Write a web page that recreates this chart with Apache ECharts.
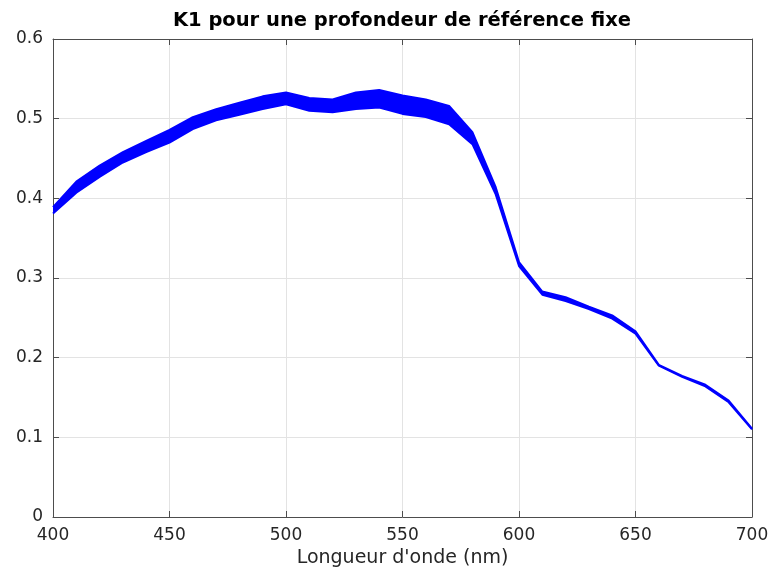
<!DOCTYPE html>
<html>
<head>
<meta charset="utf-8">
<script src="https://cdn.jsdelivr.net/npm/echarts@6/dist/echarts.min.js"></script>
<style>
html,body{margin:0;padding:0;background:#fff;}
#chart{width:773px;height:576px;}
</style>
</head>
<body>
<div id="chart"></div>
<script>
// Wavelengths (nm)
const wavelengths = [400,410,420,430,440,450,460,470,480,490,500,510,520,530,540,550,560,570,580,590,600,610,620,630,640,650,660,670,680,690,700];
// Upper envelope of the family of K1 curves
const upperK1 = [0.389,0.421,0.441,0.458,0.472,0.486,0.502,0.512,0.520,0.528,0.533,0.526,0.524,0.533,0.536,0.529,0.524,0.516,0.483,0.414,0.320,0.283,0.276,0.264,0.253,0.233,0.191,0.177,0.166,0.146,0.111];
// Lower envelope of the family of K1 curves
const lowerK1 = [0.381,0.407,0.427,0.445,0.458,0.470,0.487,0.498,0.505,0.512,0.518,0.510,0.508,0.512,0.514,0.506,0.502,0.493,0.468,0.405,0.315,0.279,0.271,0.261,0.249,0.230,0.190,0.176,0.164,0.144,0.110];
const xTicks = [400,450,500,550,600,650,700];
const yTicks = [0,0.1,0.2,0.3,0.4,0.5,0.6];

const categories = wavelengths.map(String);
const bandWidth = wavelengths.map((w,i)=>+(upperK1[i]-lowerK1[i]).toFixed(4));
const tickEvery = (idx)=> xTicks.indexOf(wavelengths[idx]) >= 0;

const axisCol = '#4d4d4d';
const txtCol = '#262626';
const font = 'DejaVu Sans';

const chart = echarts.init(document.getElementById('chart'), null, {renderer:'canvas'});
chart.setOption({
  animation:false,
  backgroundColor:'#ffffff',
  title:{
    text:'K1 pour une profondeur de référence fixe',
    left:402, top:11, textAlign:'center', padding:0,
    textStyle:{fontFamily:font, fontWeight:'bold', fontSize:19.5, color:'#000'}
  },
  grid:{left:53, right:21, top:39, bottom:59, containLabel:false},
  xAxis:[{
    type:'category', data:categories, boundaryGap:false, position:'bottom',
    name:'Longueur d\'onde (nm)', nameLocation:'middle', nameGap:31,
    nameTextStyle:{fontFamily:font, fontSize:19, color:txtCol},
    axisLine:{show:true, lineStyle:{color:axisCol, width:1}},
    axisTick:{show:true, inside:true, length:6, interval:(i)=>tickEvery(i), lineStyle:{color:axisCol}},
    axisLabel:{fontFamily:font, fontSize:17, color:txtCol, margin:10, interval:(i)=>tickEvery(i)},
    splitLine:{show:true, interval:(i)=>tickEvery(i), lineStyle:{color:'#e3e3e3', width:1}}
  },{
    type:'category', data:categories, boundaryGap:false, position:'top',
    axisLine:{show:true, onZero:false, lineStyle:{color:axisCol, width:1}},
    axisTick:{show:true, inside:true, length:6, interval:(i)=>tickEvery(i), lineStyle:{color:axisCol}},
    axisLabel:{show:false}, splitLine:{show:false}
  }],
  yAxis:[{
    type:'value', min:yTicks[0], max:yTicks[yTicks.length-1], interval:0.1, position:'left',
    axisLine:{show:true, lineStyle:{color:axisCol, width:1}},
    axisTick:{show:true, inside:true, length:6, lineStyle:{color:axisCol}},
    axisLabel:{fontFamily:font, fontSize:17, color:txtCol, margin:10,
      formatter:v=>(Math.abs(v)<1e-9?'0':String(+v.toFixed(1)))},
    splitLine:{show:true, lineStyle:{color:'#e3e3e3', width:1}}
  },{
    type:'value', min:yTicks[0], max:yTicks[yTicks.length-1], interval:0.1, position:'right',
    axisLine:{show:true, onZero:false, lineStyle:{color:axisCol, width:1}},
    axisTick:{show:true, inside:true, length:6, lineStyle:{color:axisCol}},
    axisLabel:{show:false}, splitLine:{show:false}
  }],
  series:[{
    name:'lower', type:'line', stack:'band', data:lowerK1,
    showSymbol:false, symbol:'none',
    lineStyle:{color:'#0000ff', width:2},
    z:3
  },{
    name:'band', type:'line', stack:'band', data:bandWidth,
    showSymbol:false, symbol:'none',
    lineStyle:{color:'#0000ff', width:2},
    areaStyle:{color:'#0000ff', opacity:1},
    z:3
  }]
});
</script>
</body>
</html>
